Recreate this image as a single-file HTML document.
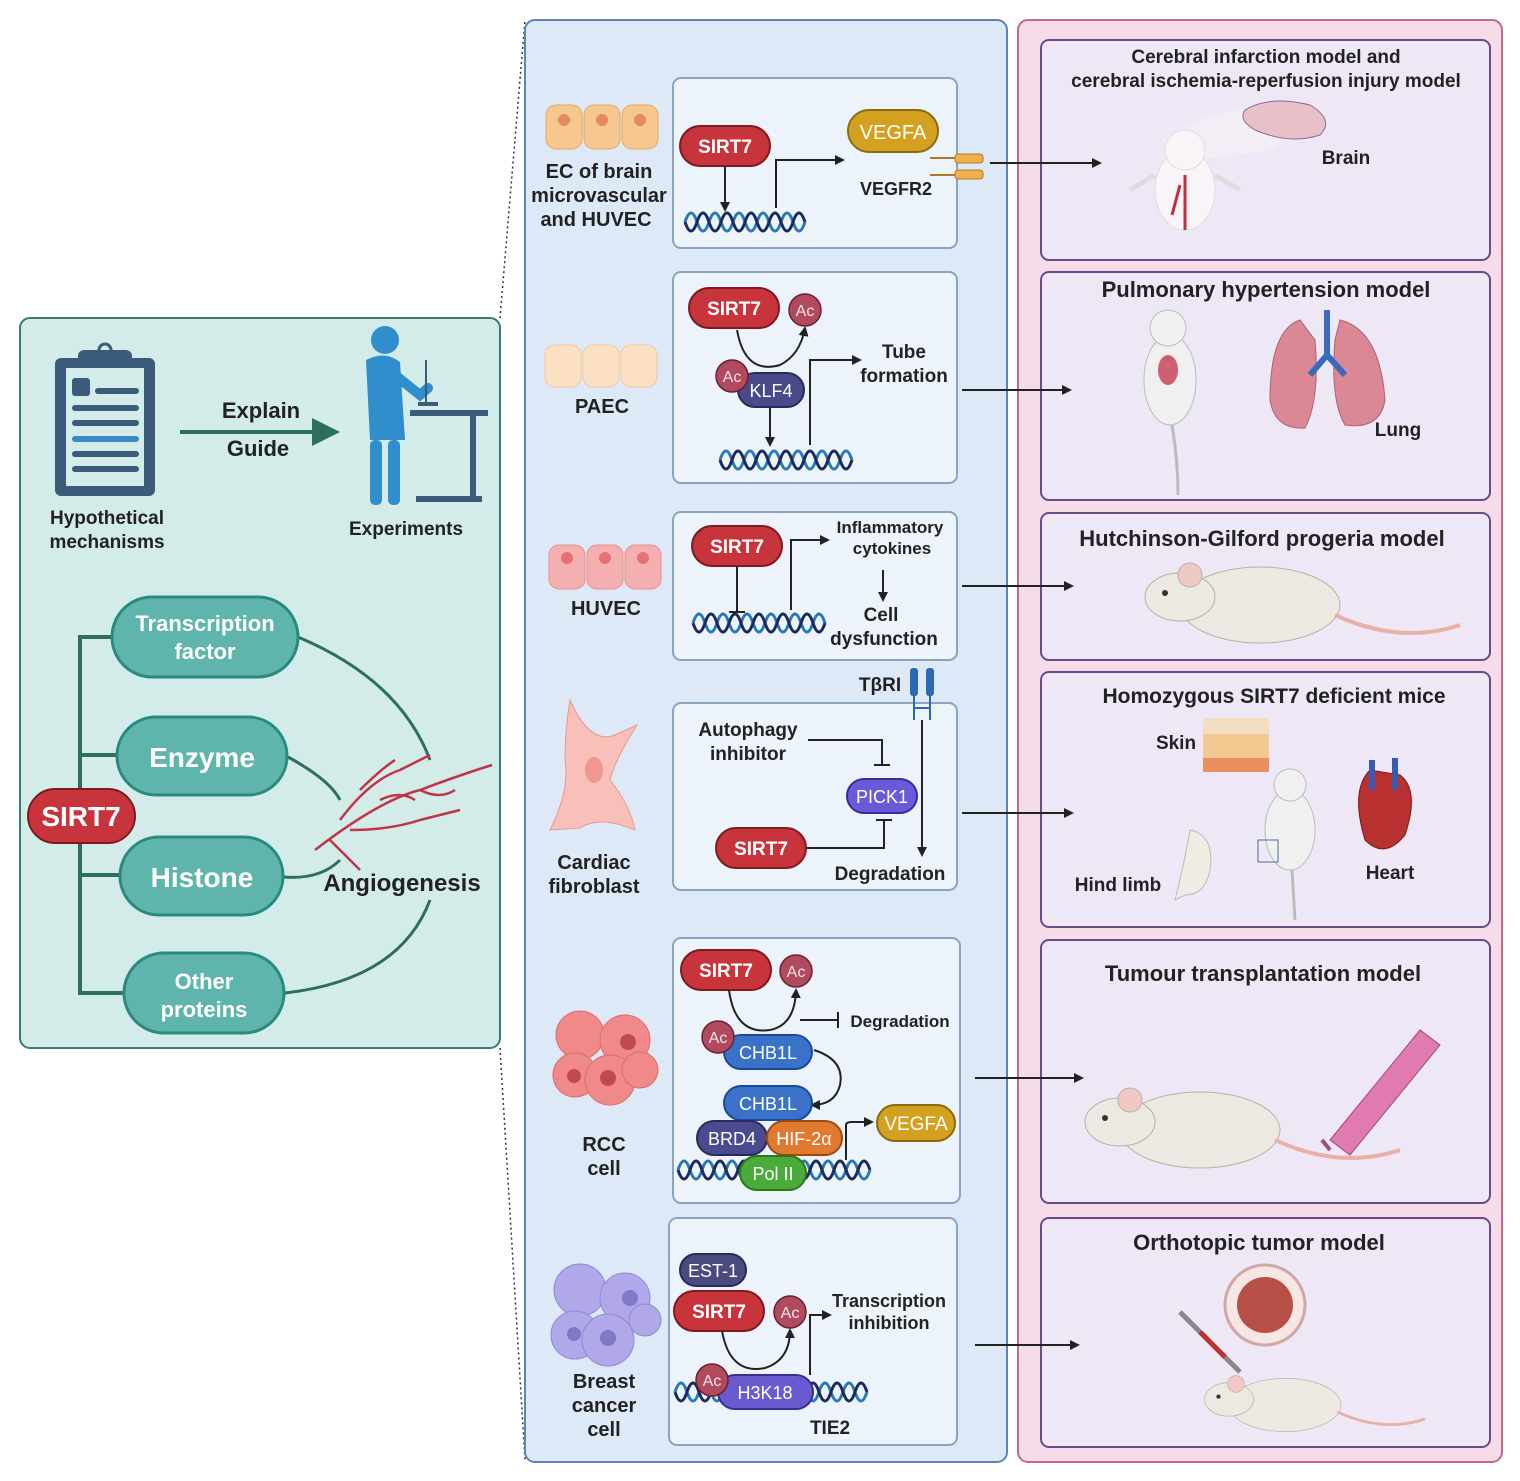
<!DOCTYPE html>
<html><head><meta charset="utf-8"><style>
body{margin:0;background:#fff}
svg{display:block}
text{font-family:"Liberation Sans",sans-serif;font-weight:bold}
text.n{font-weight:normal}
</style></head><body>
<svg width="1520" height="1481" viewBox="0 0 1520 1481" xmlns="http://www.w3.org/2000/svg">
<defs>
<marker id="ah" markerWidth="10" markerHeight="10" refX="8" refY="5" orient="auto" markerUnits="userSpaceOnUse"><path d="M0,0 L10,5 L0,10z" fill="#222"/></marker>
<g id="sirt"><rect x="0" y="0" width="90" height="40" rx="20" fill="#c8343c" stroke="#7e1a20" stroke-width="2"/><text x="45" y="27" font-size="19" fill="#fff" text-anchor="middle">SIRT7</text></g>
<g id="ac"><circle cx="0" cy="0" r="16" fill="#b04a5e" stroke="#6e2030" stroke-width="1.5"/><text class="n" x="0" y="6" font-size="16" fill="#f4e4e8" text-anchor="middle">Ac</text></g>
<g id="mouse"><ellipse cx="0" cy="0" rx="80" ry="38" fill="#ece8e2" stroke="#b8b0a8"/><ellipse cx="-80" cy="-8" rx="35" ry="24" fill="#ece8e2" stroke="#b8b0a8"/><circle cx="-70" cy="-30" r="12" fill="#f0c8c4" stroke="#b8b0a8"/><circle cx="-95" cy="-12" r="3" fill="#333"/><path d="M75,10 Q140,40 200,20" stroke="#e8b0a8" stroke-width="4" fill="none"/></g>
</defs>

<line x1="500" y1="318" x2="525" y2="20" stroke="#333" stroke-dasharray="2,3" stroke-width="1.5"/>
<line x1="500" y1="1048" x2="525" y2="1460" stroke="#333" stroke-dasharray="2,3" stroke-width="1.5"/>

<!-- LEFT PANEL -->
<rect x="20" y="318" width="480" height="730" rx="10" fill="#d4ece9" stroke="#3d7a72" stroke-width="2"/>
<rect x="55" y="358" width="100" height="138" rx="6" fill="#3a5c7a"/>
<rect x="66" y="368" width="78" height="118" fill="#d4ece9"/>
<rect x="78" y="350" width="54" height="18" rx="6" fill="#3a5c7a"/>
<circle cx="105" cy="350" r="6" fill="none" stroke="#3a5c7a" stroke-width="3"/>
<rect x="72" y="378" width="18" height="18" rx="3" fill="#3a5c7a"/>
<rect x="95" y="388" width="44" height="6" rx="3" fill="#3a5c7a"/>
<rect x="72" y="405" width="67" height="6" rx="3" fill="#3a5c7a"/>
<rect x="72" y="420" width="67" height="6" rx="3" fill="#3a5c7a"/>
<rect x="72" y="436" width="67" height="6" rx="3" fill="#3a8ac8"/>
<rect x="72" y="451" width="67" height="6" rx="3" fill="#3a5c7a"/>
<rect x="72" y="466" width="67" height="6" rx="3" fill="#3a5c7a"/>
<text x="107" y="524" font-size="19" fill="#222" text-anchor="middle">Hypothetical</text>
<text x="107" y="548" font-size="19" fill="#222" text-anchor="middle">mechanisms</text>
<line x1="180" y1="432" x2="315" y2="432" stroke="#2e6e5e" stroke-width="4"/>
<path d="M312,418 L340,432 L312,446z" fill="#2e6e5e"/>
<text x="261" y="418" font-size="22" fill="#222" text-anchor="middle">Explain</text>
<text x="258" y="456" font-size="22" fill="#222" text-anchor="middle">Guide</text>
<circle cx="385" cy="340" r="14" fill="#2f8ecb"/>
<path d="M366,360 Q385,350 400,362 L405,440 L370,440 Z" fill="#2f8ecb"/>
<path d="M395,375 L420,395 L428,388" stroke="#2f8ecb" stroke-width="10" fill="none" stroke-linecap="round"/>
<rect x="370" y="440" width="12" height="65" rx="5" fill="#2f8ecb"/>
<rect x="388" y="440" width="12" height="65" rx="5" fill="#2f8ecb"/>
<rect x="410" y="410" width="78" height="6" fill="#3a5c7a"/>
<rect x="470" y="410" width="6" height="90" fill="#3a5c7a"/>
<rect x="416" y="496" width="66" height="6" fill="#3a5c7a"/>
<line x1="426" y1="360" x2="426" y2="405" stroke="#3a5c7a" stroke-width="2"/>
<rect x="418" y="402" width="20" height="4" fill="#3a5c7a"/>
<text x="406" y="535" font-size="19" fill="#222" text-anchor="middle">Experiments</text>
<g stroke="#2e6e5e" stroke-width="4" fill="none">
<path d="M80,790 L80,637 L115,637"/>
<path d="M80,755 L118,755"/>
<path d="M80,875 L122,875"/>
<path d="M80,843 L80,993 L125,993"/>
<path d="M298,637 Q400,680 430,760" stroke-width="3"/>
<path d="M288,757 Q330,780 340,800" stroke-width="3"/>
<path d="M283,877 Q320,880 340,860" stroke-width="3"/>
<path d="M285,993 Q400,980 430,900" stroke-width="3"/>
</g>
<g stroke="#c0344a" stroke-width="2.5" fill="none">
<path d="M315,850 Q380,800 420,790 Q460,775 492,765"/>
<path d="M340,820 Q370,780 400,770 L430,755"/>
<path d="M350,830 Q390,830 420,820 L460,810"/>
<path d="M380,800 Q400,790 415,800"/>
<path d="M360,790 Q380,770 395,760"/>
<path d="M420,790 Q440,800 455,790"/>
<path d="M330,840 Q350,860 360,870"/>
</g>
<g font-size="22" fill="#fff" text-anchor="middle">
<rect x="112" y="597" width="186" height="80" rx="40" fill="#5fb5ab" stroke="#2a8a80" stroke-width="3"/>
<text x="205" y="631">Transcription</text><text x="205" y="659">factor</text>
<rect x="117" y="717" width="170" height="78" rx="39" fill="#5fb5ab" stroke="#2a8a80" stroke-width="3"/>
<text x="202" y="767" font-size="28">Enzyme</text>
<rect x="120" y="837" width="163" height="78" rx="39" fill="#5fb5ab" stroke="#2a8a80" stroke-width="3"/>
<text x="202" y="887" font-size="28">Histone</text>
<rect x="124" y="953" width="160" height="80" rx="40" fill="#5fb5ab" stroke="#2a8a80" stroke-width="3"/>
<text x="204" y="989">Other</text><text x="204" y="1017">proteins</text>
<rect x="28" y="789" width="107" height="54" rx="27" fill="#c8343c" stroke="#7e1a20" stroke-width="2"/>
<text x="81" y="826" font-size="28">SIRT7</text>
</g>
<text x="402" y="891" font-size="24" fill="#222" text-anchor="middle">Angiogenesis</text>

<!-- RIGHT PANEL (drawn before arrows) -->
<rect x="1018" y="20" width="484" height="1442" rx="10" fill="#f6dce8" stroke="#c06a92" stroke-width="2"/>
<g fill="#eee8f6" stroke="#6a4a8a" stroke-width="2">
<rect x="1041" y="40" width="449" height="220" rx="8"/>
<rect x="1041" y="272" width="449" height="228" rx="8"/>
<rect x="1041" y="513" width="449" height="147" rx="8"/>
<rect x="1041" y="672" width="449" height="255" rx="8"/>
<rect x="1041" y="940" width="449" height="263" rx="8"/>
<rect x="1041" y="1218" width="449" height="229" rx="8"/>
</g>

<!-- MIDDLE PANEL -->
<rect x="525" y="20" width="482" height="1442" rx="10" fill="#dde9f6" stroke="#5c86b0" stroke-width="2"/>
<g fill="#edf3fa" stroke="#8aa4c0" stroke-width="2">
<rect x="673" y="78" width="284" height="170" rx="8"/>
<rect x="673" y="272" width="284" height="211" rx="8"/>
<rect x="673" y="512" width="284" height="148" rx="8"/>
<rect x="673" y="703" width="284" height="187" rx="8"/>
<rect x="673" y="938" width="287" height="265" rx="8"/>
<rect x="669" y="1218" width="288" height="227" rx="8"/>
</g>
<g fill="#f6c890" stroke="#e8a860"><rect x="546" y="105" width="36" height="44" rx="10"/><rect x="584" y="105" width="36" height="44" rx="10"/><rect x="622" y="105" width="36" height="44" rx="10"/></g>
<g fill="#e88a60"><circle cx="564" cy="120" r="6"/><circle cx="602" cy="120" r="6"/><circle cx="640" cy="120" r="6"/></g>
<g fill="#fbe0c4" stroke="#f0c8a0"><rect x="545" y="345" width="36" height="42" rx="10"/><rect x="583" y="345" width="36" height="42" rx="10"/><rect x="621" y="345" width="36" height="42" rx="10"/></g>
<g fill="#f4b0b0" stroke="#e89090"><rect x="549" y="545" width="36" height="44" rx="10"/><rect x="587" y="545" width="36" height="44" rx="10"/><rect x="625" y="545" width="36" height="44" rx="10"/></g>
<g fill="#e87070"><circle cx="567" cy="558" r="6"/><circle cx="605" cy="558" r="6"/><circle cx="643" cy="558" r="6"/></g>
<path d="M570,700 Q590,745 615,735 L637,725 Q615,760 610,780 Q630,805 635,830 Q600,815 580,828 L550,830 Q570,790 565,760 Q565,730 570,700z" fill="#f8c0b8" stroke="#e89890"/>
<ellipse cx="594" cy="770" rx="9" ry="13" fill="#f09890"/>
<g fill="#f08a8a" stroke="#e06a6a"><circle cx="580" cy="1035" r="24"/><circle cx="625" cy="1040" r="25"/><circle cx="575" cy="1075" r="22"/><circle cx="610" cy="1080" r="25"/><circle cx="640" cy="1070" r="18"/></g>
<g fill="#c04a50"><circle cx="628" cy="1042" r="8"/><circle cx="608" cy="1078" r="8"/><circle cx="574" cy="1076" r="7"/></g>
<g fill="#b0a8e8" stroke="#9088d8"><circle cx="580" cy="1290" r="26"/><circle cx="625" cy="1298" r="25"/><circle cx="575" cy="1335" r="24"/><circle cx="608" cy="1340" r="26"/><circle cx="645" cy="1320" r="16"/></g>
<g fill="#8078c8"><circle cx="630" cy="1298" r="8"/><circle cx="608" cy="1338" r="8"/><circle cx="574" cy="1334" r="7"/></g>
<g font-size="20" fill="#222" text-anchor="middle">
<text x="599" y="178">EC of brain</text><text x="599" y="202">microvascular</text><text x="596" y="226">and HUVEC</text>
<text x="602" y="413">PAEC</text>
<text x="606" y="615">HUVEC</text>
<text x="594" y="869">Cardiac</text><text x="594" y="893">fibroblast</text>
<text x="604" y="1151">RCC</text><text x="604" y="1175">cell</text>
<text x="604" y="1388">Breast</text><text x="604" y="1412">cancer</text><text x="604" y="1436">cell</text>
</g>

<!-- helices -->
<g fill="none" stroke-width="3">
<path d="M685,222 Q691,204 697,222 T709,222 T721,222 T733,222 T745,222 T757,222 T769,222 T781,222 T793,222 T805,222" stroke="#2a7ab0"/>
<path d="M685,222 Q691,240 697,222 T709,222 T721,222 T733,222 T745,222 T757,222 T769,222 T781,222 T793,222 T805,222" stroke="#1a2a5a"/>
<path d="M720,460 Q726,442 732,460 T744,460 T756,460 T768,460 T780,460 T792,460 T804,460 T816,460 T828,460 T840,460 T852,460" stroke="#2a7ab0"/>
<path d="M720,460 Q726,478 732,460 T744,460 T756,460 T768,460 T780,460 T792,460 T804,460 T816,460 T828,460 T840,460 T852,460" stroke="#1a2a5a"/>
<path d="M693,623 Q699,605 705,623 T717,623 T729,623 T741,623 T753,623 T765,623 T777,623 T789,623 T801,623 T813,623 T825,623" stroke="#2a7ab0"/>
<path d="M693,623 Q699,641 705,623 T717,623 T729,623 T741,623 T753,623 T765,623 T777,623 T789,623 T801,623 T813,623 T825,623" stroke="#1a2a5a"/>
<path d="M678,1170 Q684,1152 690,1170 T702,1170 T714,1170 T726,1170 T738,1170 T750,1170 T762,1170 T774,1170 T786,1170 T798,1170 T810,1170 T822,1170 T834,1170 T846,1170 T858,1170 T870,1170" stroke="#2a7ab0"/>
<path d="M678,1170 Q684,1188 690,1170 T702,1170 T714,1170 T726,1170 T738,1170 T750,1170 T762,1170 T774,1170 T786,1170 T798,1170 T810,1170 T822,1170 T834,1170 T846,1170 T858,1170 T870,1170" stroke="#1a2a5a"/>
<path d="M675,1392 Q681,1374 687,1392 T699,1392 T711,1392 T723,1392 T735,1392 T747,1392 T759,1392 T771,1392 T783,1392 T795,1392 T807,1392 T819,1392 T831,1392 T843,1392 T855,1392 T867,1392" stroke="#2a7ab0"/>
<path d="M675,1392 Q681,1410 687,1392 T699,1392 T711,1392 T723,1392 T735,1392 T747,1392 T759,1392 T771,1392 T783,1392 T795,1392 T807,1392 T819,1392 T831,1392 T843,1392 T855,1392 T867,1392" stroke="#1a2a5a"/>
</g>

<!-- box1 -->
<use href="#sirt" x="680" y="126"/>
<line x1="725" y1="166" x2="725" y2="210" stroke="#222" stroke-width="2" marker-end="url(#ah)"/>
<path d="M776,208 L776,160 L843,160" fill="none" stroke="#222" stroke-width="2" marker-end="url(#ah)"/>
<rect x="848" y="110" width="90" height="42" rx="21" fill="#d4a020" stroke="#8a6a10" stroke-width="2"/>
<text class="n" x="893" y="139" font-size="20" fill="#fff" text-anchor="middle">VEGFA</text>
<text x="896" y="195" font-size="18" fill="#222" text-anchor="middle">VEGFR2</text>
<g fill="#f0b050" stroke="#b07a20"><rect x="955" y="154" width="28" height="9" rx="3"/><rect x="955" y="170" width="28" height="9" rx="3"/></g>
<path d="M930,158 L955,158 M930,175 L955,175" stroke="#b07a20" stroke-width="2"/>
<!-- box2 -->
<use href="#sirt" x="689" y="288"/>
<use href="#ac" x="805" y="310"/>
<path d="M737,330 Q745,375 780,365 Q800,355 805,328" fill="none" stroke="#222" stroke-width="2" marker-end="url(#ah)"/>
<rect x="738" y="373" width="66" height="34" rx="17" fill="#4a4a8a" stroke="#2a2a5a" stroke-width="2"/>
<text class="n" x="771" y="397" font-size="18" fill="#fff" text-anchor="middle">KLF4</text>
<use href="#ac" x="732" y="376"/>
<line x1="770" y1="408" x2="770" y2="445" stroke="#222" stroke-width="2" marker-end="url(#ah)"/>
<path d="M810,445 L810,360 L860,360" fill="none" stroke="#222" stroke-width="2" marker-end="url(#ah)"/>
<text x="904" y="358" font-size="19" fill="#222" text-anchor="middle">Tube</text>
<text x="904" y="382" font-size="19" fill="#222" text-anchor="middle">formation</text>
<!-- box3 -->
<use href="#sirt" x="692" y="526"/>
<path d="M737,566 L737,612 M729,612 L745,612" stroke="#222" stroke-width="2"/>
<path d="M791,610 L791,540 L828,540" fill="none" stroke="#222" stroke-width="2" marker-end="url(#ah)"/>
<text x="890" y="533" font-size="17" fill="#222" text-anchor="middle">Inflammatory</text>
<text x="892" y="554" font-size="17" fill="#222" text-anchor="middle">cytokines</text>
<line x1="883" y1="570" x2="883" y2="600" stroke="#222" stroke-width="2" marker-end="url(#ah)"/>
<text x="881" y="621" font-size="19" fill="#222" text-anchor="middle">Cell</text>
<text x="884" y="645" font-size="19" fill="#222" text-anchor="middle">dysfunction</text>
<!-- box4 -->
<text x="880" y="691" font-size="19" fill="#222" text-anchor="middle">TβRI</text>
<rect x="910" y="668" width="8" height="28" rx="3" fill="#2a6ab0"/><rect x="926" y="668" width="8" height="28" rx="3" fill="#2a6ab0"/>
<path d="M914,696 L914,720 M930,696 L930,720 M914,708 L930,708" stroke="#2a6ab0" stroke-width="2"/>
<line x1="922" y1="720" x2="922" y2="855" stroke="#222" stroke-width="2" marker-end="url(#ah)"/>
<text x="748" y="736" font-size="19" fill="#222" text-anchor="middle">Autophagy</text>
<text x="748" y="760" font-size="19" fill="#222" text-anchor="middle">inhibitor</text>
<path d="M808,740 L882,740 L882,765 M874,765 L890,765" fill="none" stroke="#222" stroke-width="2"/>
<rect x="847" y="779" width="70" height="34" rx="17" fill="#6a5ad8" stroke="#3a2a9a" stroke-width="2"/>
<text class="n" x="882" y="803" font-size="18" fill="#fff" text-anchor="middle">PICK1</text>
<use href="#sirt" x="716" y="828"/>
<path d="M806,848 L884,848 L884,820 M876,820 L892,820" fill="none" stroke="#222" stroke-width="2"/>
<text x="890" y="880" font-size="19" fill="#222" text-anchor="middle">Degradation</text>
<!-- box5 -->
<use href="#sirt" x="681" y="950"/>
<use href="#ac" x="796" y="971"/>
<path d="M729,990 Q735,1035 770,1030 Q795,1025 796,990" fill="none" stroke="#222" stroke-width="2" marker-end="url(#ah)"/>
<path d="M800,1020 L838,1020 M838,1012 L838,1028" stroke="#222" stroke-width="2"/>
<text x="900" y="1027" font-size="17" fill="#222" text-anchor="middle">Degradation</text>
<rect x="724" y="1035" width="88" height="34" rx="17" fill="#3a72c8" stroke="#1a4a9a" stroke-width="2"/>
<text class="n" x="768" y="1059" font-size="18" fill="#fff" text-anchor="middle">CHB1L</text>
<use href="#ac" x="718" y="1037"/>
<path d="M814,1050 Q845,1060 840,1085 Q835,1105 812,1105" fill="none" stroke="#222" stroke-width="2" marker-end="url(#ah)"/>
<rect x="724" y="1086" width="88" height="34" rx="17" fill="#3a72c8" stroke="#1a4a9a" stroke-width="2"/>
<text class="n" x="768" y="1110" font-size="18" fill="#fff" text-anchor="middle">CHB1L</text>
<rect x="697" y="1121" width="70" height="34" rx="17" fill="#4a4a90" stroke="#2a2a5a" stroke-width="2"/>
<text class="n" x="732" y="1145" font-size="18" fill="#fff" text-anchor="middle">BRD4</text>
<rect x="767" y="1121" width="75" height="34" rx="17" fill="#e07a30" stroke="#a04a10" stroke-width="2"/>
<text class="n" x="804" y="1145" font-size="18" fill="#fff" text-anchor="middle">HIF-2α</text>
<rect x="740" y="1156" width="66" height="34" rx="17" fill="#4aaa3a" stroke="#2a7a1a" stroke-width="2"/>
<text class="n" x="773" y="1180" font-size="18" fill="#fff" text-anchor="middle">Pol II</text>
<path d="M846,1160 L846,1125 Q846,1122 852,1122 L872,1122" fill="none" stroke="#222" stroke-width="2" marker-end="url(#ah)"/>
<rect x="877" y="1105" width="78" height="36" rx="18" fill="#d4a020" stroke="#8a6a10" stroke-width="2"/>
<text class="n" x="916" y="1130" font-size="19" fill="#fff" text-anchor="middle">VEGFA</text>
<!-- box6 -->
<rect x="680" y="1254" width="66" height="32" rx="16" fill="#4a4a80" stroke="#2a2a5a" stroke-width="2"/>
<text class="n" x="713" y="1277" font-size="18" fill="#fff" text-anchor="middle">EST-1</text>
<use href="#sirt" x="674" y="1291"/>
<use href="#ac" x="790" y="1312"/>
<path d="M722,1331 Q730,1375 765,1368 Q790,1360 790,1330" fill="none" stroke="#222" stroke-width="2" marker-end="url(#ah)"/>
<rect x="718" y="1375" width="95" height="34" rx="17" fill="#6a5ad0" stroke="#3a2a9a" stroke-width="2"/>
<text class="n" x="765" y="1399" font-size="18" fill="#fff" text-anchor="middle">H3K18</text>
<use href="#ac" x="712" y="1380"/>
<path d="M810,1375 L810,1315 L830,1315" fill="none" stroke="#222" stroke-width="2" marker-end="url(#ah)"/>
<text x="889" y="1307" font-size="18" fill="#222" text-anchor="middle">Transcription</text>
<text x="889" y="1329" font-size="18" fill="#222" text-anchor="middle">inhibition</text>
<text x="830" y="1434" font-size="19" fill="#222" text-anchor="middle">TIE2</text>

<!-- right panel contents -->
<g fill="#222" text-anchor="middle">
<text x="1266" y="63" font-size="19">Cerebral infarction model and</text>
<text x="1266" y="87" font-size="19">cerebral ischemia-reperfusion injury model</text>
<text x="1346" y="164" font-size="19">Brain</text>
<text x="1266" y="297" font-size="22">Pulmonary hypertension model</text>
<text x="1398" y="436" font-size="19">Lung</text>
<text x="1262" y="546" font-size="22">Hutchinson-Gilford progeria model</text>
<text x="1274" y="703" font-size="21">Homozygous SIRT7 deficient mice</text>
<text x="1176" y="749" font-size="19">Skin</text>
<text x="1118" y="891" font-size="19">Hind limb</text>
<text x="1390" y="879" font-size="19">Heart</text>
<text x="1263" y="981" font-size="22">Tumour transplantation model</text>
<text x="1259" y="1250" font-size="22">Orthotopic tumor model</text>
</g>
<path d="M1160,140 L1210,115 L1270,105 L1310,125 L1270,150 L1200,160z" fill="#f4eef6" opacity="0.8"/>
<path d="M1245,110 Q1270,95 1310,105 Q1335,120 1320,135 Q1290,145 1255,130 Q1238,120 1245,110z" fill="#e8c0c8" stroke="#8a6a9a"/>
<ellipse cx="1185" cy="190" rx="30" ry="40" fill="#f8f4f8" stroke="#ddd"/>
<circle cx="1185" cy="150" r="20" fill="#f8f4f8" stroke="#ddd"/>
<path d="M1185,175 L1185,230 M1180,185 L1172,215" stroke="#c03040" stroke-width="3"/>
<path d="M1130,190 L1155,175 M1240,190 L1215,175" stroke="#ddd" stroke-width="5"/>
<ellipse cx="1170" cy="380" rx="26" ry="45" fill="#f0f0f0" stroke="#bbb"/>
<circle cx="1168" cy="328" r="18" fill="#f0f0f0" stroke="#bbb"/>
<ellipse cx="1168" cy="370" rx="10" ry="15" fill="#d06070"/>
<path d="M1172,425 Q1178,460 1178,495" stroke="#bbb" stroke-width="3" fill="none"/>
<path d="M1300,320 Q1270,330 1270,400 Q1275,430 1305,428 Q1320,400 1315,340z" fill="#d98894" stroke="#b06070"/>
<path d="M1340,320 Q1380,330 1385,400 Q1380,430 1345,425 Q1330,400 1335,340z" fill="#d98894" stroke="#b06070"/>
<path d="M1327,310 L1327,360 M1327,355 L1310,375 M1327,355 L1345,375" stroke="#3a6ac0" stroke-width="6" fill="none"/>
<g transform="translate(1260,605)"><use href="#mouse"/></g>
<rect x="1203" y="718" width="66" height="54" fill="#f0c890"/>
<rect x="1203" y="718" width="66" height="16" fill="#f4dcc0"/>
<rect x="1203" y="758" width="66" height="14" fill="#e89060"/>
<ellipse cx="1290" cy="830" rx="25" ry="40" fill="#f0f0f0" stroke="#bbb"/>
<circle cx="1290" cy="785" r="16" fill="#f0f0f0" stroke="#bbb"/>
<path d="M1292,870 L1295,920" stroke="#bbb" stroke-width="3"/>
<rect x="1258" y="840" width="20" height="22" fill="none" stroke="#4a6aa0"/>
<path d="M1190,830 Q1215,835 1210,870 Q1205,895 1185,895 L1175,900 Q1185,860 1190,830z" fill="#f0ece4" stroke="#bbb"/>
<path d="M1370,770 Q1350,790 1365,840 Q1385,860 1405,835 Q1420,790 1400,775z" fill="#b83030" stroke="#7a1818"/>
<path d="M1372,760 L1372,790 M1395,758 L1395,790" stroke="#3a5ab0" stroke-width="6"/>
<g transform="translate(1200,1130)"><use href="#mouse"/></g>
<path d="M1330,1140 L1420,1030 L1440,1045 L1350,1155z" fill="#e07ab0" stroke="#a04a80"/>
<path d="M1322,1140 L1330,1150" stroke="#a04a80" stroke-width="4"/>
<circle cx="1265" cy="1305" r="40" fill="#f6e6e4" stroke="#d0a8a8" stroke-width="3"/>
<circle cx="1265" cy="1305" r="28" fill="#b85048"/>
<path d="M1180,1312 L1240,1372" stroke="#888" stroke-width="5"/>
<path d="M1200,1332 L1225,1357" stroke="#c03030" stroke-width="5"/>
<g transform="translate(1285,1405) scale(0.7)"><use href="#mouse"/></g>

<!-- arrows to right (on top) -->
<g stroke="#222" stroke-width="2" marker-end="url(#ah)">
<line x1="990" y1="163" x2="1100" y2="163"/>
<line x1="962" y1="390" x2="1070" y2="390"/>
<line x1="962" y1="586" x2="1072" y2="586"/>
<line x1="962" y1="813" x2="1072" y2="813"/>
<line x1="975" y1="1078" x2="1082" y2="1078"/>
<line x1="975" y1="1345" x2="1078" y2="1345"/>
</g>
</svg>
</body></html>
